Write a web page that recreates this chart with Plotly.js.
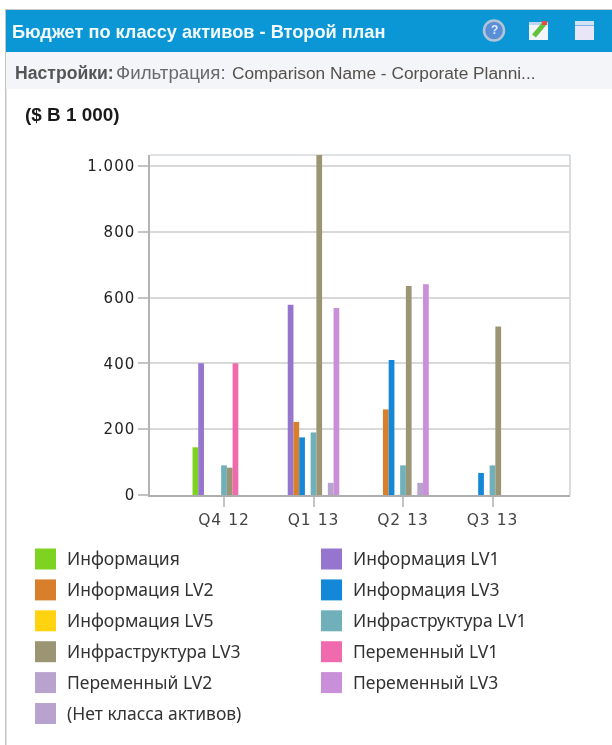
<!DOCTYPE html>
<html>
<head>
<meta charset="utf-8">
<script src="https://cdn.plot.ly/plotly-3.0.1.min.js"></script>
<style>
html,body{margin:0;padding:0;background:#fff;}
#chart{width:612px;height:745px;filter:blur(0.5px);}
.xtick text,.ytick text{letter-spacing:1px;}
</style>
</head>
<body>
<div id="chart"></div>
<script>
const quarters = ["Q4 12","Q1 13","Q2 13","Q3 13"];
const yTicks = [0,200,400,600,800,1000];
const yTickLabels = ["0","200","400","600","800","1.000"];

const names = ["Информация","Информация LV1","Информация LV2","Информация LV3","Информация LV5","Инфраструктура LV1","Инфраструктура LV3","Переменный LV1","Переменный LV2","Переменный LV3","(Нет класса активов)"];
const colors = ["#7ed321","#9575cd","#d97f2c","#1488d8","#ffd30f","#6fb0bb","#9c9574","#f06bad","#b8a3cf","#c98fd8","#b8a3cf"];

const informatsiya    = [145,null,null,null];
const informatsiyaLV1 = [400,578,null,null];
const informatsiyaLV2 = [null,222,260,null];
const informatsiyaLV3 = [null,175,410,67];
const informatsiyaLV5 = [null,null,null,null];
const infraLV1        = [90,190,90,90];
const infraLV3        = [83,1040,635,512];
const peremennyLV1    = [400,null,null,null];
const peremennyLV2    = [null,37,37,null];
const peremennyLV3    = [null,568,640,null];
const noClass         = [null,null,null,null];
const series = [informatsiya,informatsiyaLV1,informatsiyaLV2,informatsiyaLV3,informatsiyaLV5,infraLV1,infraLV3,peremennyLV1,peremennyLV2,peremennyLV3,noClass];

const headerTitle = "Бюджет по классу активов - Второй план";
const settingsLabel = "Настройки:";
const filterLabel = "Фильтрация:";
const filterValue = "Comparison Name - Corporate Planni...";
const unitsLabel = "($ В 1 000)";

const L=150,R=570,T=155,B=495;
const px = v => (v-L)/(R-L);
const py = v => (B-v)/(B-T);

const shapes = [];
const annotations = [];
function box(x0,y0,x1,y1,fill,line,layer){
  shapes.push({type:"rect",xref:"paper",yref:"paper",x0:px(x0),x1:px(x1),y0:py(y1),y1:py(y0),
    fillcolor:fill,line:line?{color:line,width:1}:{width:0},layer:layer||"below"});
}
function label(x,y,text,font,anchor){
  annotations.push({xref:"paper",yref:"paper",x:px(x),y:py(y),text:text,showarrow:false,
    xanchor:anchor||"left",yanchor:"middle",font:font,borderpad:0,borderwidth:0});
}

box(5,9,6.5,745,"#c4c4c4");
box(6,9,612,10.5,"#c9c9c9");
box(6,10,612,52,"#0b97d6");
box(6,52,612,89,"#f3f5f8");
label(12,32,headerTitle,{family:"Liberation Sans, Arial, sans-serif",size:18.2,color:"#f4fbff",weight:700});
label(15,73,settingsLabel,{family:"Liberation Sans, Arial, sans-serif",size:17.6,color:"#555555",weight:700});
label(116,73,filterLabel,{family:"Liberation Sans, Arial, sans-serif",size:18.7,color:"#6a6a6a"});
label(232,73,filterValue,{family:"Liberation Sans, Arial, sans-serif",size:17.3,color:"#55504a"});
label(25,114,unitsLabel,{family:"Liberation Sans, Arial, sans-serif",size:18.9,color:"#1a1a1a",weight:700});

// help icon
shapes.push({type:"circle",xref:"paper",yref:"paper",x0:px(484),x1:px(504),y0:py(40.5),y1:py(20.5),fillcolor:"#5a8fd8",line:{color:"#b5c3d6",width:2.5},layer:"below"});
label(494,30.5,"?",{family:"Liberation Sans, Arial, sans-serif",size:12,color:"#dfe9f7",weight:700},"center");
// edit icon
box(529,23,548,40,"#f2f6fc");
box(529,22,548,25,"#bcd6f2");
shapes.push({type:"line",xref:"paper",yref:"paper",x0:px(534),x1:px(544),y0:py(36),y1:py(24),line:{color:"#62c23a",width:5},layer:"below"});
box(542,21,547,25,"#e0503a");
// window icon
box(575,21,594,40,"#e9e7f7");
box(575,21,594,25,"#cfe2f6");
box(575,25,594,26,"#7fb0e4");

const legendOrder = [0,1,2,3,4,5,6,7,8,9,10];
legendOrder.forEach((s,i)=>{
  const col=i%2, row=Math.floor(i/2);
  const sx = col?321:35, lx = col?353:67;
  const cy = 559+row*30.9;
  box(sx,cy-10.5,sx+21,cy+10.5,colors[s]);
  label(lx,cy-1,names[s],{family:"Noto Sans, Open Sans, sans-serif",size:17.5,color:"#333333"});
});

const data = series.map((vals,i)=>({
  type:"bar",name:names[i],x:quarters,y:vals,marker:{color:colors[i],line:{width:0}},showlegend:false,
  hovertemplate:"%{x}<br>%{y}<extra>"+names[i]+"</extra>"
}));

const layout = {
  width:612,height:745,
  margin:{l:L,r:612-R,t:T,b:745-B,pad:0},
  paper_bgcolor:"#ffffff",plot_bgcolor:"#ffffff",
  barmode:"group",bargap:0.296,bargroupgap:0,
  showlegend:false,
  font:{family:"DejaVu Sans, sans-serif",color:"#333333",size:14},
  xaxis:{type:"category",categories:quarters,range:[-0.827,3.866],
    categoryorder:"array",categoryarray:quarters,
    showline:true,linecolor:"#adadad",linewidth:1.5,
    ticks:"outside",ticklen:10,tickcolor:"#c4c4c4",tickwidth:2,showgrid:false,
    tickfont:{family:"DejaVu Sans, sans-serif",size:15.5,color:"#444444"},mirror:false},
  yaxis:{range:[0,1033],tickvals:yTicks,ticktext:yTickLabels,
    showline:true,linecolor:"#b4b4b4",linewidth:1.5,
    ticks:"outside",ticklen:10,tickcolor:"#c4c4c4",tickwidth:1.5,
    showgrid:true,gridcolor:"#d9d9d9",gridwidth:1.5,zeroline:false,
    tickfont:{family:"DejaVu Sans, sans-serif",size:15,color:"#222222"},ticklabelstandoff:0},
  shapes:shapes.concat([
    {type:"line",xref:"paper",yref:"paper",x0:0,x1:1,y0:1,y1:1,line:{color:"#d4d8dc",width:1.5},layer:"below"},
    {type:"line",xref:"paper",yref:"paper",x0:1,x1:1,y0:0,y1:1,line:{color:"#ccd2d8",width:1.5},layer:"below"}
  ]),
  annotations:annotations
};
Plotly.newPlot("chart",data,layout,{displayModeBar:false,responsive:false});
</script>
</body>
</html>
